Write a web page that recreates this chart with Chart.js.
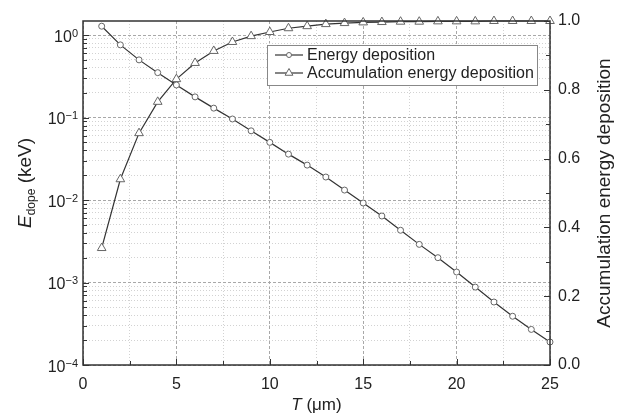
<!DOCTYPE html>
<html>
<head>
<meta charset="utf-8">
<script src="https://cdn.jsdelivr.net/npm/chart.js@4.4.0/dist/chart.umd.min.js"></script>
<style>
html, body { margin: 0; padding: 0; background: #fff; }
</style>
</head>
<body>
<canvas id="chart" width="619" height="418"></canvas>
<script>
// thickness T (um)
const thickness = [1, 2, 3, 4, 5, 6, 7, 8, 9, 10, 11, 12, 13, 14, 15, 16, 17, 18, 19, 20, 21, 22, 23, 24, 25];
// energy deposition per layer (keV), left log axis
const energyDeposition = [1.28, 0.76, 0.50, 0.35, 0.248, 0.178, 0.130, 0.096, 0.069, 0.050,
    0.036, 0.0265, 0.019, 0.0132, 0.0092, 0.0064, 0.0043, 0.0029, 0.0020, 0.00134,
    0.00088, 0.00058, 0.00039, 0.00027, 0.00019];
// accumulated fraction, right axis
const accumulation = [0.34, 0.54, 0.674, 0.765, 0.831, 0.878, 0.913, 0.939, 0.956, 0.968,
    0.979, 0.985, 0.991, 0.994, 0.996, 0.997, 0.998, 0.998, 0.999, 0.999,
    0.999, 1.0, 1.0, 1.0, 1.0];
const seriesNames = ['Energy deposition', 'Accumulation energy deposition'];
const xMajor = [0, 5, 10, 15, 20, 25];
const rightMajor = [0, 0.2, 0.4, 0.6, 0.8, 1.0];

const FONT = '"Liberation Sans", Arial, sans-serif';
const INK = '#222';

function isDecade(v) {
    const l = Math.log10(v);
    return Math.abs(l - Math.round(l)) < 1e-6;
}
function isLogMinor(v) {
    const p = Math.pow(10, Math.floor(Math.log10(v) + 1e-9));
    const s = v / p;
    return Math.abs(s - Math.round(s)) < 1e-6;
}
function near(list, v) {
    return list.some(m => Math.abs(m - v) < 1e-6);
}

// grid styles: dashed on major values, dotted on minor ones
function gridColor(major) { return major ? '#a8a8a8' : '#d2d2d2'; }
function gridDash(major) { return major ? [3, 2] : [1, 2]; }

const decorPlugin = {
    id: 'decor',
    afterDraw(chart) {
        const ctx = chart.ctx;
        const a = chart.chartArea;
        const sx = chart.scales.x, sl = chart.scales.y, sr = chart.scales.y1;
        ctx.save();

        // inward tick marks
        ctx.strokeStyle = '#333';
        ctx.lineWidth = 1;
        ctx.beginPath();
        sx.ticks.forEach(t => {
            const px = Math.round(sx.getPixelForValue(t.value)) + 0.5;
            const len = near(xMajor, t.value) ? 6 : 4;
            ctx.moveTo(px, a.bottom); ctx.lineTo(px, a.bottom - len);
        });
        sl.ticks.forEach(t => {
            if (!isLogMinor(t.value)) return;
            const py = Math.round(sl.getPixelForValue(t.value)) + 0.5;
            const len = isDecade(t.value) ? 6 : 4;
            ctx.moveTo(a.left, py); ctx.lineTo(a.left + len, py);
        });
        sr.ticks.forEach(t => {
            const py = Math.round(sr.getPixelForValue(t.value)) + 0.5;
            const len = near(rightMajor, t.value) ? 6 : 4;
            ctx.moveTo(a.right, py); ctx.lineTo(a.right - len, py);
        });
        ctx.stroke();

        // frame
        ctx.lineWidth = 1.5;
        ctx.strokeStyle = '#333';
        ctx.strokeRect(a.left, a.top, a.right - a.left, a.bottom - a.top);

        // left tick labels 10^n
        ctx.fillStyle = INK;
        ctx.textBaseline = 'alphabetic';
        ctx.textAlign = 'left';
        sl.ticks.forEach(t => {
            if (!isDecade(t.value)) return;
            const e = Math.round(Math.log10(t.value));
            const py = sl.getPixelForValue(t.value);
            const exp = e < 0 ? '\u2212' + (-e) : String(e);
            ctx.font = '11px ' + FONT;
            const we = ctx.measureText(exp).width;
            ctx.font = '16px ' + FONT;
            const wb = ctx.measureText('10').width;
            const xr = a.left - 5;
            ctx.fillText('10', xr - we - wb, py + 6.5);
            ctx.font = '11px ' + FONT;
            ctx.fillText(exp, xr - we, py + 1.5);
        });

        // axis titles
        ctx.fillStyle = INK;
        // bottom: T (um)
        ctx.font = 'italic 17px ' + FONT;
        const wT = ctx.measureText('T').width;
        ctx.font = '17px ' + FONT;
        const wU = ctx.measureText(' (\u03bcm)').width;
        const cx = (a.left + a.right) / 2;
        let x0 = cx - (wT + wU) / 2;
        ctx.font = 'italic 17px ' + FONT;
        ctx.fillText('T', x0, 410);
        ctx.font = '17px ' + FONT;
        ctx.fillText(' (\u03bcm)', x0 + wT, 410);

        // left: E_dope (keV)
        ctx.save();
        ctx.translate(31, 183);
        ctx.rotate(-Math.PI / 2);
        ctx.font = 'italic 19px ' + FONT;
        const wE = ctx.measureText('E').width;
        ctx.font = '12px ' + FONT;
        const wS = ctx.measureText('dope').width;
        ctx.font = '19px ' + FONT;
        const wK = ctx.measureText(' (keV)').width;
        x0 = -(wE + wS + wK) / 2;
        ctx.font = 'italic 19px ' + FONT;
        ctx.fillText('E', x0, 0);
        ctx.font = '12px ' + FONT;
        ctx.fillText('dope', x0 + wE, 4);
        ctx.font = '19px ' + FONT;
        ctx.fillText(' (keV)', x0 + wE + wS, 0);
        ctx.restore();

        // right title
        ctx.save();
        ctx.translate(610, (a.top + a.bottom) / 2);
        ctx.rotate(-Math.PI / 2);
        ctx.textAlign = 'center';
        ctx.font = '19px ' + FONT;
        ctx.fillText('Accumulation energy deposition', 0, 0);
        ctx.restore();

        // legend box
        const lx = 267, ly = 45, lw = 270, lh = 40;
        ctx.fillStyle = '#fff';
        ctx.fillRect(lx, ly, lw, lh);
        ctx.lineWidth = 1;
        ctx.strokeStyle = '#888';
        ctx.strokeRect(lx + 0.5, ly + 0.5, lw, lh);
        chart.data.datasets.forEach((ds, i) => {
            const y = ly + 10 + i * 18;
            ctx.strokeStyle = ds.borderColor;
            ctx.lineWidth = ds.borderWidth;
            ctx.beginPath();
            ctx.moveTo(lx + 8, y); ctx.lineTo(lx + 36, y);
            ctx.stroke();
            ctx.lineWidth = ds.pointBorderWidth;
            ctx.fillStyle = '#fff';
            ctx.strokeStyle = ds.pointBorderColor;
            ctx.beginPath();
            const r = ds.pointRadius - 0.5;
            if (ds.pointStyle === 'circle') {
                ctx.arc(lx + 22, y, r, 0, Math.PI * 2);
            } else {
                ctx.moveTo(lx + 22, y - r);
                ctx.lineTo(lx + 22 + r * 0.866, y + r * 0.5);
                ctx.lineTo(lx + 22 - r * 0.866, y + r * 0.5);
                ctx.closePath();
            }
            ctx.fill();
            ctx.stroke();
            ctx.fillStyle = INK;
            ctx.font = '16px ' + FONT;
            ctx.textAlign = 'left';
            ctx.textBaseline = 'middle';
            ctx.fillText(seriesNames[i], lx + 40, y + 1);
        });

        ctx.restore();
    }
};

new Chart(document.getElementById('chart'), {
    type: 'line',
    data: {
        datasets: [{
            label: seriesNames[0],
            data: thickness.map((t, i) => ({ x: t, y: energyDeposition[i] })),
            yAxisID: 'y',
            borderColor: '#333',
            borderWidth: 1.2,
            pointStyle: 'circle',
            pointRadius: 3,
            pointBorderColor: '#666',
            pointBackgroundColor: '#fff',
            pointBorderWidth: 1,
            clip: false
        }, {
            label: seriesNames[1],
            data: thickness.map((t, i) => ({ x: t, y: accumulation[i] })),
            yAxisID: 'y1',
            borderColor: '#333',
            borderWidth: 1.2,
            pointStyle: 'triangle',
            pointRadius: 5,
            pointBorderColor: '#666',
            pointBackgroundColor: '#fff',
            pointBorderWidth: 1,
            clip: false
        }]
    },
    options: {
        responsive: false,
        animation: false,
        layout: { padding: { top: 21, left: 0, right: 0, bottom: 0 } },
        plugins: { legend: { display: false }, tooltip: { enabled: false } },
        scales: {
            x: {
                type: 'linear',
                min: 0, max: 25,
                afterFit: s => { s.height = 53; },
                ticks: {
                    stepSize: 2.5,
                    padding: 10,
                    color: INK,
                    font: { family: FONT, size: 16 },
                    maxRotation: 0,
                    autoSkip: false,
                    callback: v => near(xMajor, v) ? String(v) : ''
                },
                grid: {
                    drawTicks: false,
                    color: c => gridColor(c.tick && near(xMajor, c.tick.value)),
                    lineWidth: 1
                },
                border: {
                    display: false,
                    dash: c => gridDash(c.tick && near(xMajor, c.tick.value))
                }
            },
            y: {
                type: 'logarithmic',
                position: 'left',
                min: 1e-4, max: 1.48,
                afterFit: s => { s.width = 83; },
                ticks: { display: false, autoSkip: false },
                grid: {
                    drawTicks: false,
                    color: c => (c.tick && isLogMinor(c.tick.value)) ? gridColor(isDecade(c.tick.value)) : 'rgba(0,0,0,0)',
                    lineWidth: 1
                },
                border: {
                    display: false,
                    dash: c => gridDash(c.tick && isDecade(c.tick.value))
                }
            },
            y1: {
                type: 'linear',
                position: 'right',
                min: 0, max: 1,
                afterFit: s => { s.width = 69; },
                ticks: {
                    stepSize: 0.1,
                    padding: 8,
                    color: INK,
                    font: { family: FONT, size: 16 },
                    autoSkip: false,
                    callback: v => near(rightMajor, v) ? v.toFixed(1) : ''
                },
                grid: { display: false, drawTicks: false },
                border: { display: false }
            }
        }
    },
    plugins: [decorPlugin]
});
</script>
</body>
</html>
